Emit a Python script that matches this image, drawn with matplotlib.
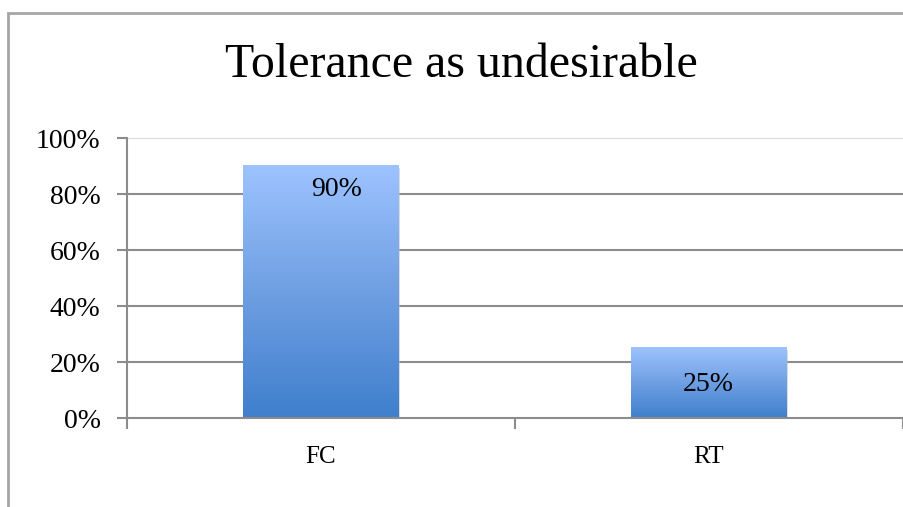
import numpy as np
import matplotlib.pyplot as plt
from matplotlib.colors import LinearSegmentedColormap
from matplotlib.patches import Rectangle

plt.rcParams['font.family'] = ['Liberation Serif', 'DejaVu Serif']

# data
categories = ['FC', 'RT']
values = [90, 25]
labels = ['90%', '25%']
yticks = [0, 20, 40, 60, 80, 100]

grad = LinearSegmentedColormap.from_list('bar', ['#3f7fcd', '#6f9fe2', '#9dc3ff'])

def main():
    fig = plt.figure(figsize=(9.04, 5.07), dpi=100)
    ax = fig.add_axes([0.1405, 0.1755, 0.858, 0.5523])

    x = np.arange(len(categories))
    width = 0.4

    # grid lines
    for t in yticks[1:]:
        col = '#d9d9d9' if t == 100 else '#8c8c8c'
        ax.axhline(t, color=col, lw=1.5, zorder=0)

    bars = ax.bar(x, values, width=width, color='none', zorder=2)
    g = np.linspace(0, 1, 256).reshape(-1, 1)
    for b in bars:
        x0, y0 = b.get_x(), b.get_y()
        w, h = b.get_width(), b.get_height()
        # soft shadow
        ax.add_patch(Rectangle((x0 + 0.004, y0 - 0.6), w, h, color='#bbbbbb', alpha=0.5, zorder=1.5, lw=0))
        ax.imshow(g, cmap=grad, aspect='auto', origin='lower',
                  extent=(x0, x0 + w, y0, y0 + h), zorder=2)
    ax.set_xlim(-0.5, 1.5)
    ax.set_ylim(0, 100)

    # value labels
    ax.text(x[0] + 0.04, 81.5, labels[0], ha='center', va='center', fontsize=20)
    ax.text(x[1], 12, labels[1], ha='center', va='center', fontsize=20)

    ax.set_yticks(yticks)
    ax.set_yticklabels([f'{t}%' for t in yticks], fontsize=20)
    ax.set_xticks([-0.5, 0.5, 1.5])
    ax.set_xticklabels([])
    ax.set_xticks(x, minor=True)
    ax.set_xticklabels(categories, minor=True, fontsize=18)
    ax.tick_params(axis='x', which='minor', length=0, pad=20)
    ax.tick_params(axis='x', which='major', length=8, width=1.5, color='#8c8c8c', direction='out')
    ax.tick_params(axis='y', length=7, width=1.5, color='#8c8c8c', direction='out', pad=12)

    for s in ['top', 'right']:
        ax.spines[s].set_visible(False)
    for s in ['left', 'bottom']:
        ax.spines[s].set_color('#8c8c8c')
        ax.spines[s].set_linewidth(1.5)

    fig.text(0.51, 0.872, 'Tolerance as undesirable', ha='center', va='center', fontsize=34.5)

    # chart frame
    fig.add_artist(Rectangle((8 / 904, -0.1), 1.2, (507 - 13) / 507 + 0.1,
                             transform=fig.transFigure, fill=False,
                             edgecolor='#a6a6a6', lw=2))

    fig.savefig('out.png', dpi=100)

if __name__ == "__main__":
    main()
